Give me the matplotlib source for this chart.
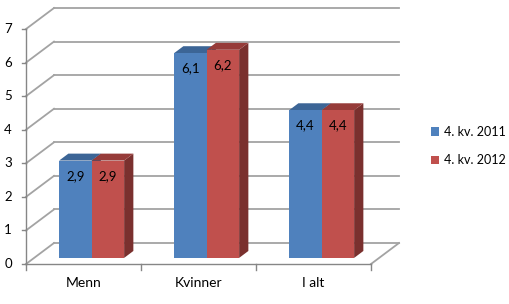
import matplotlib
matplotlib.use("Agg")
from matplotlib import pyplot as plt
from matplotlib.patches import Polygon, Patch

categories = ["Menn", "Kvinner", "I alt"]
series_names = ["4. kv. 2011", "4. kv. 2012"]
values_2011 = [2.9, 6.1, 4.4]
values_2012 = [2.9, 6.2, 4.4]
value_ticks = [0, 1, 2, 3, 4, 5, 6, 7]

# face colours per series: front, top, side
colors = [("#4f81bd", "#3c6596", "#2f5077"),
          ("#c0504d", "#963b39", "#7a302e")]

plt.rcParams["font.family"] = ["Lato", "DejaVu Sans"]

# 3d-ish projection: depth of the box in data units
DX = 0.2435
DY = 0.6255
D1, D2 = 0.29, 0.62  # front/back depth of bars
BAR_W = 0.2826
GRID = "#a3a3a3"
AXC = "#868686"

fig = plt.figure(figsize=(5.10, 3.04), dpi=100)
ax = fig.add_axes([0, 0, 1, 1])
ax.set_xlim(-26 / 115, (510 - 26) / 115)
ax.set_ylim(-40 / 33.57, (304 - 40) / 33.57)
ax.axis("off")

n = len(categories)
top = value_ticks[-1]

# walls and gridlines
for v in value_ticks:
    ax.plot([DX, n + DX], [v + DY, v + DY], color=GRID, lw=1.3, zorder=1)
    ax.plot([0, DX], [v, v + DY], color=GRID, lw=1.3, zorder=1)
    ax.plot([-0.035, 0], [v, v], color=AXC, lw=1, zorder=2)
    ax.text(-0.155, v, str(v), ha="center", va="center", fontsize=9.5)
ax.plot([n, n + DX], [0, DY], color=GRID, lw=1.3, zorder=1)
ax.plot([0, 0], [0, top], color=AXC, lw=1, zorder=2)
ax.plot([0, n], [0, 0], color=AXC, lw=1, zorder=2)
for i in range(n + 1):
    ax.plot([i, i], [0, -0.17], color=AXC, lw=1, zorder=2)
for i, c in enumerate(categories):
    ax.text(i + 0.5, -0.57, c, ha="center", va="center", fontsize=10)


def bar3d(x0, v, cols):
    f, t, s = cols
    x1 = x0 + BAR_W
    ax.add_patch(Polygon([(x1 + D1 * DX, D1 * DY), (x1 + D2 * DX, D2 * DY),
                          (x1 + D2 * DX, v + D2 * DY), (x1 + D1 * DX, v + D1 * DY)],
                         closed=True, fc=s, ec="none", zorder=3))
    ax.add_patch(Polygon([(x0 + D1 * DX, v + D1 * DY), (x1 + D1 * DX, v + D1 * DY),
                          (x1 + D2 * DX, v + D2 * DY), (x0 + D2 * DX, v + D2 * DY)],
                         closed=True, fc=t, ec="none", zorder=3))
    ax.add_patch(Polygon([(x0 + D1 * DX, D1 * DY), (x1 + D1 * DX, D1 * DY),
                          (x1 + D1 * DX, v + D1 * DY), (x0 + D1 * DX, v + D1 * DY)],
                         closed=True, fc=f, ec="none", zorder=4))
    ax.annotate(f"{v:.1f}".replace(".", ","),
                (x0 + BAR_W / 2 + D1 * DX, v + D1 * DY),
                xytext=(0, -11), textcoords="offset points",
                ha="center", va="center", fontsize=9.5, zorder=5)


for i in range(n):
    x0 = i + 0.5 - BAR_W
    bar3d(x0, values_2011[i], colors[0])
    bar3d(x0 + BAR_W, values_2012[i], colors[1])

handles = [Patch(fc=colors[k][0], ec="none") for k in range(2)]
ax.legend(handles, series_names, loc="center left",
          bbox_to_anchor=(420 / 510, 1 - 146 / 304), frameon=False,
          fontsize=9, handlelength=0.65, handleheight=0.65,
          handletextpad=0.35, labelspacing=1.3)

fig.savefig("out.png", dpi=100)
